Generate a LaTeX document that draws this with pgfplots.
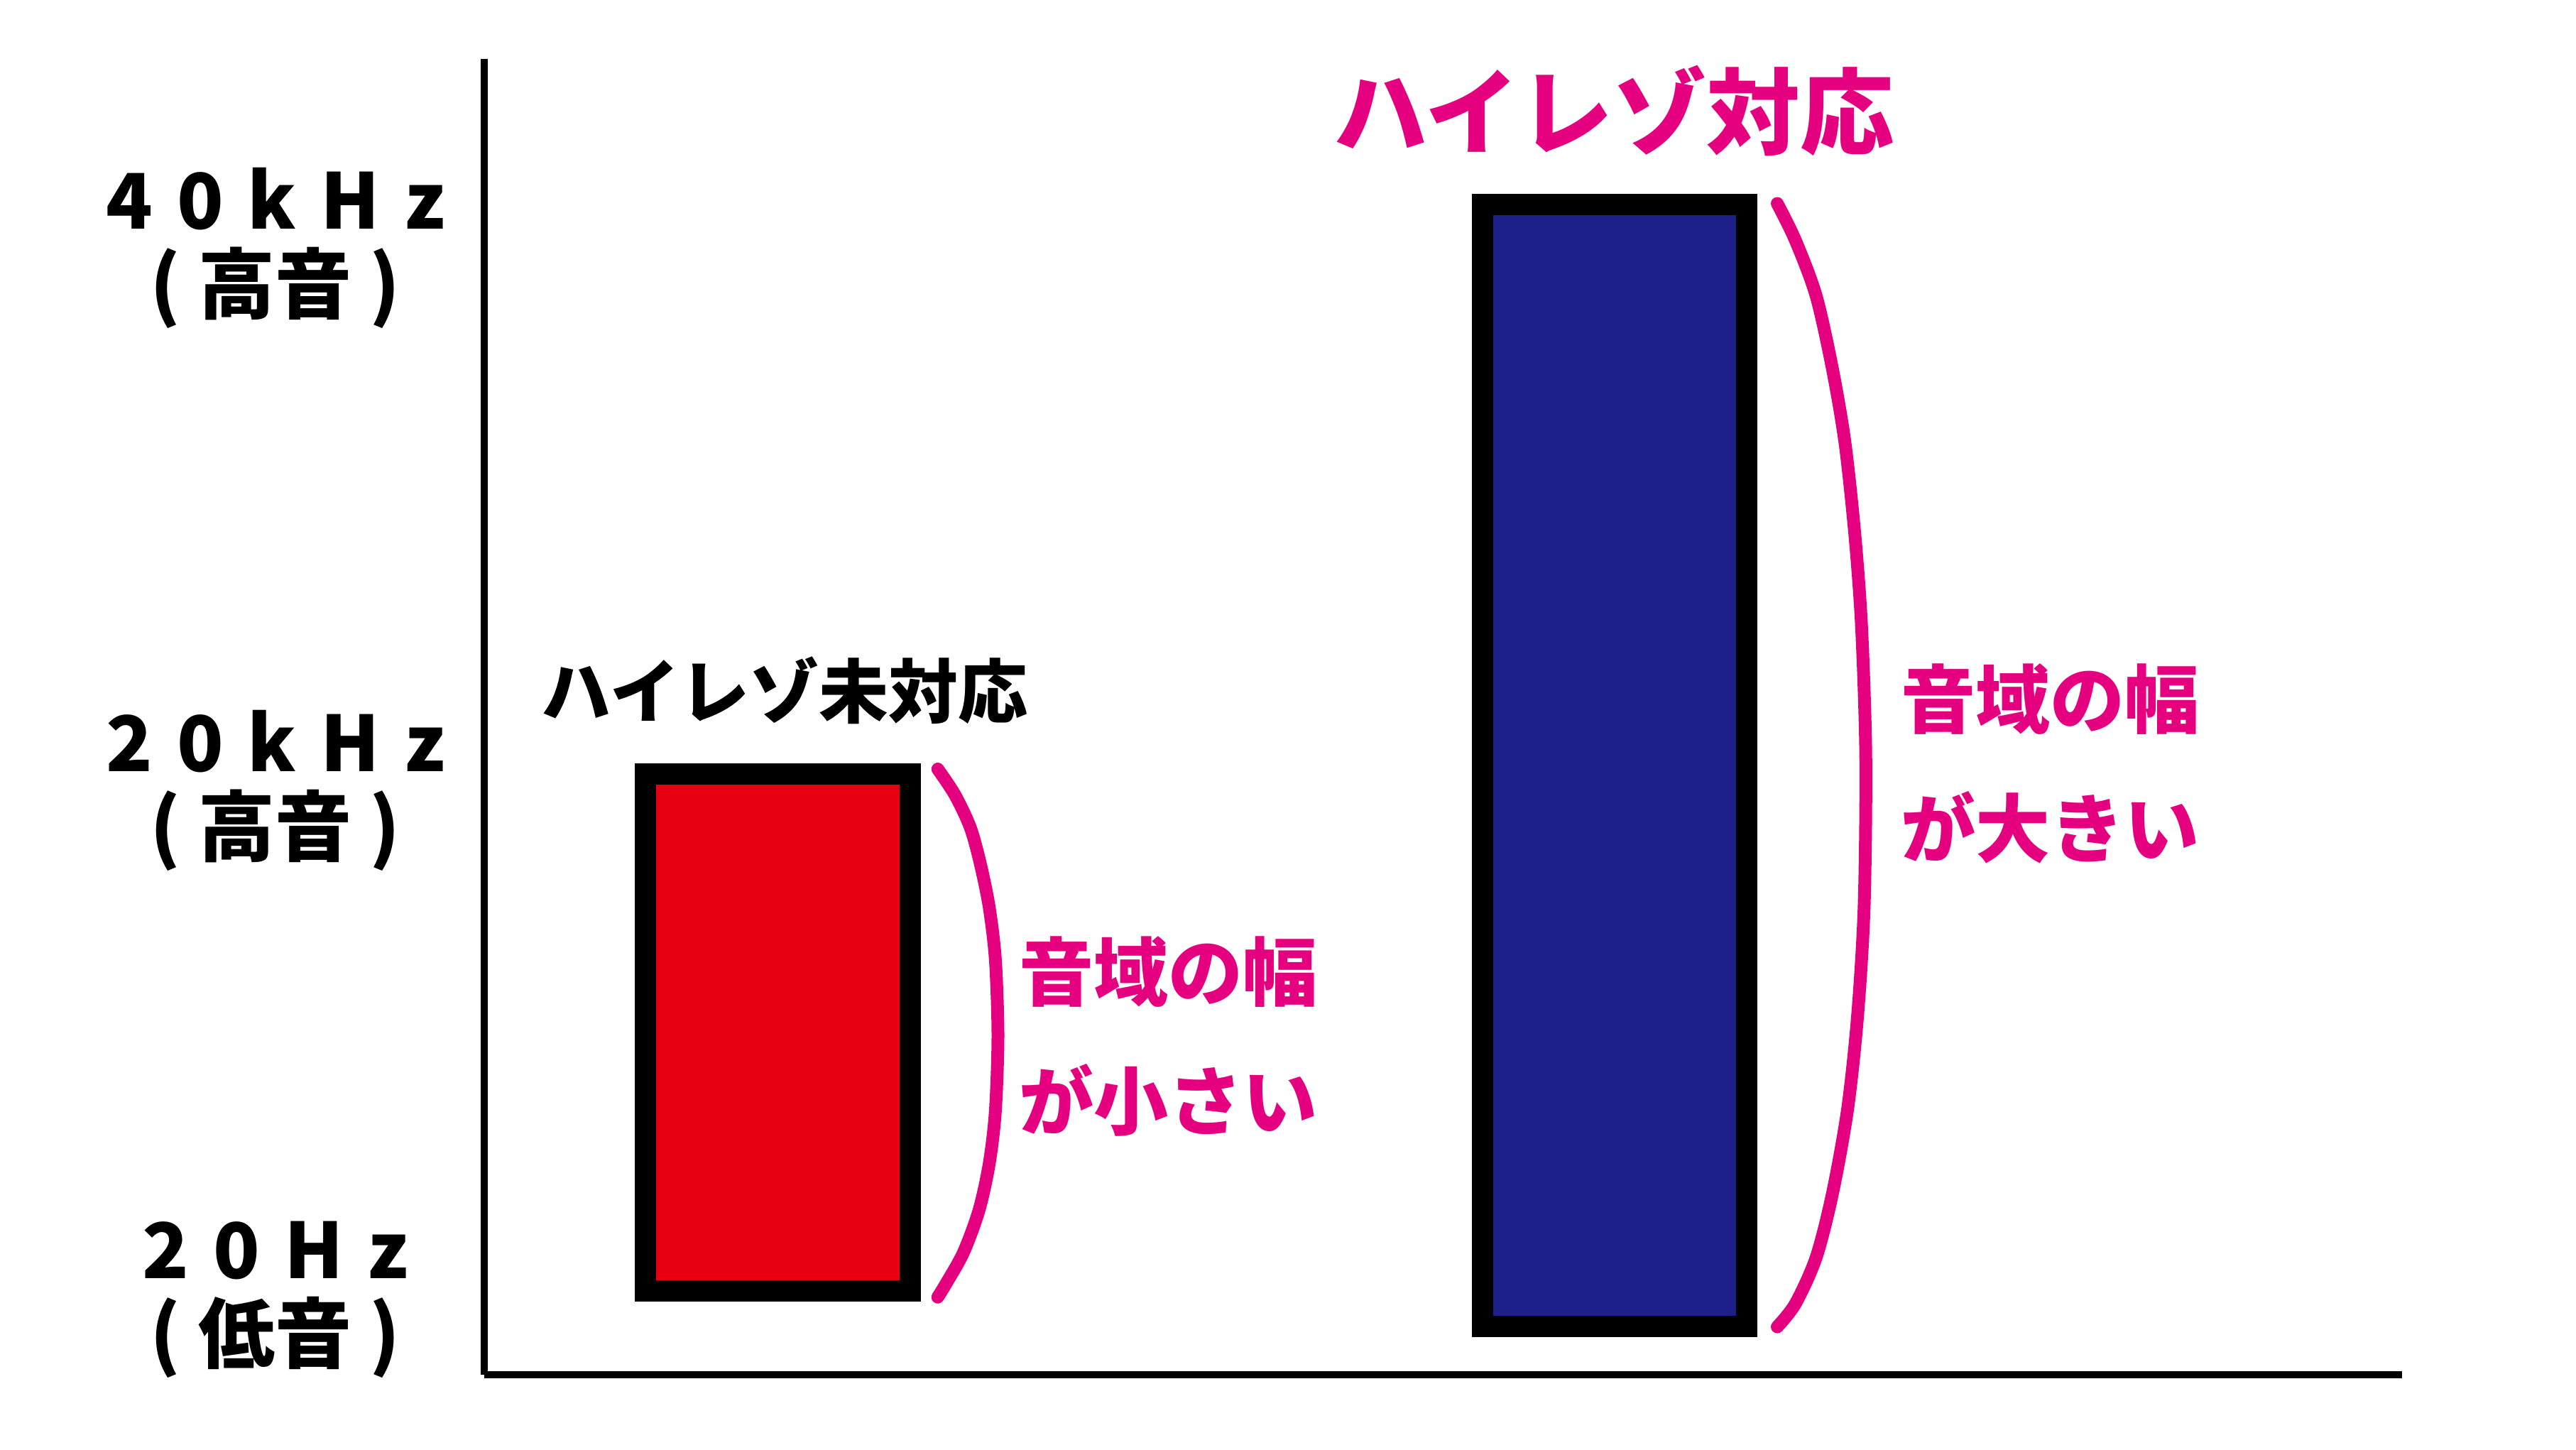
\documentclass[border=0pt]{standalone}
\usepackage{fontspec}
\usepackage{pgfplots}
\pgfplotsset{compat=1.18}
\setmainfont{Noto Sans CJK JP}
\definecolor{barred}{HTML}{E60012}
\definecolor{barblue}{HTML}{1D2088}
\definecolor{accent}{HTML}{E4007F}
\newcommand\gap{\hspace{3.4pt}}
\newcommand\pgap{\hspace{2.5pt}}
\begin{document}
\begin{tikzpicture}
\begin{axis}[name=ax, scale only axis, width=270.1pt, height=185.3pt,
  xmin=0, xmax=2701, ymin=0, ymax=1853,
  axis lines=left, axis line style={-, line width=1pt, black},
  xtick=\empty, ytick={106,822.5,1587},
  yticklabels={{2\gap0\gap H\gap z\\(\pgap 低音\pgap)},{2\gap0\gap k\gap H\gap z\\(\pgap 高音\pgap)},{4\gap0\gap k\gap H\gap z\\(\pgap 高音\pgap)}},
  major tick length=0pt,
  yticklabel style={anchor=east, align=center, text width=52pt, inner sep=0pt, xshift=-3.2pt,
    font=\bfseries\fontsize{10.8}{11.8}\selectfont},
  clip=false]
\addplot[draw=black, fill=barred, line width=3pt] coordinates {(227,118) (599.5,118) (599.5,846) (227,846)} -- cycle;
\addplot[draw=black, fill=barblue, line width=3pt] coordinates {(1406,68) (1778.4,68) (1778.4,1647.6) (1406,1647.6)} -- cycle;
\addplot[accent, line width=1.8pt, smooth, line cap=round] coordinates {
(638.7,853) (663,816.5) (684.8,770) (699.3,717) (711.4,657) (719.9,584) (723.5,478) (719.9,372) (711.4,298.5) (696.9,232) (675,172.4) (650.9,129.2) (638.7,109.3)};
\addplot[accent, line width=1.8pt, smooth, line cap=round] coordinates {
(1821,1649.5) (1846.6,1597.5) (1875.8,1519.3) (1899,1415.2) (1916.6,1311) (1930.5,1180.8) (1939.9,1050.6) (1945.7,868.3) (1943.4,660) (1934,503.7) (1920,373.5) (1899,256.3) (1875.8,165.2) (1846.6,100.1) (1821,67.5)};
\node[text=accent, font=\bfseries\fontsize{13.2}{14}\selectfont, inner sep=0pt] at (axis cs:1591,1780) {ハイレゾ対応};
\node[font=\bfseries\fontsize{9.8}{11}\selectfont, inner sep=0pt] at (axis cs:423,964) {ハイレゾ未対応};
\node[text=accent, anchor=west, align=left, font=\bfseries\fontsize{10.5}{18.2}\selectfont, inner sep=0pt] at (axis cs:751,476.5) {音域の幅\\が小さい};
\node[text=accent, anchor=west, align=left, font=\bfseries\fontsize{10.5}{18.2}\selectfont, inner sep=0pt] at (axis cs:1993,861) {音域の幅\\が大きい};
\end{axis}
\pgfresetboundingbox
\useasboundingbox (ax.south west) ++(-68.2pt,-10.5pt) rectangle ++(362.8pt,204.1pt);
\end{tikzpicture}
\end{document}
